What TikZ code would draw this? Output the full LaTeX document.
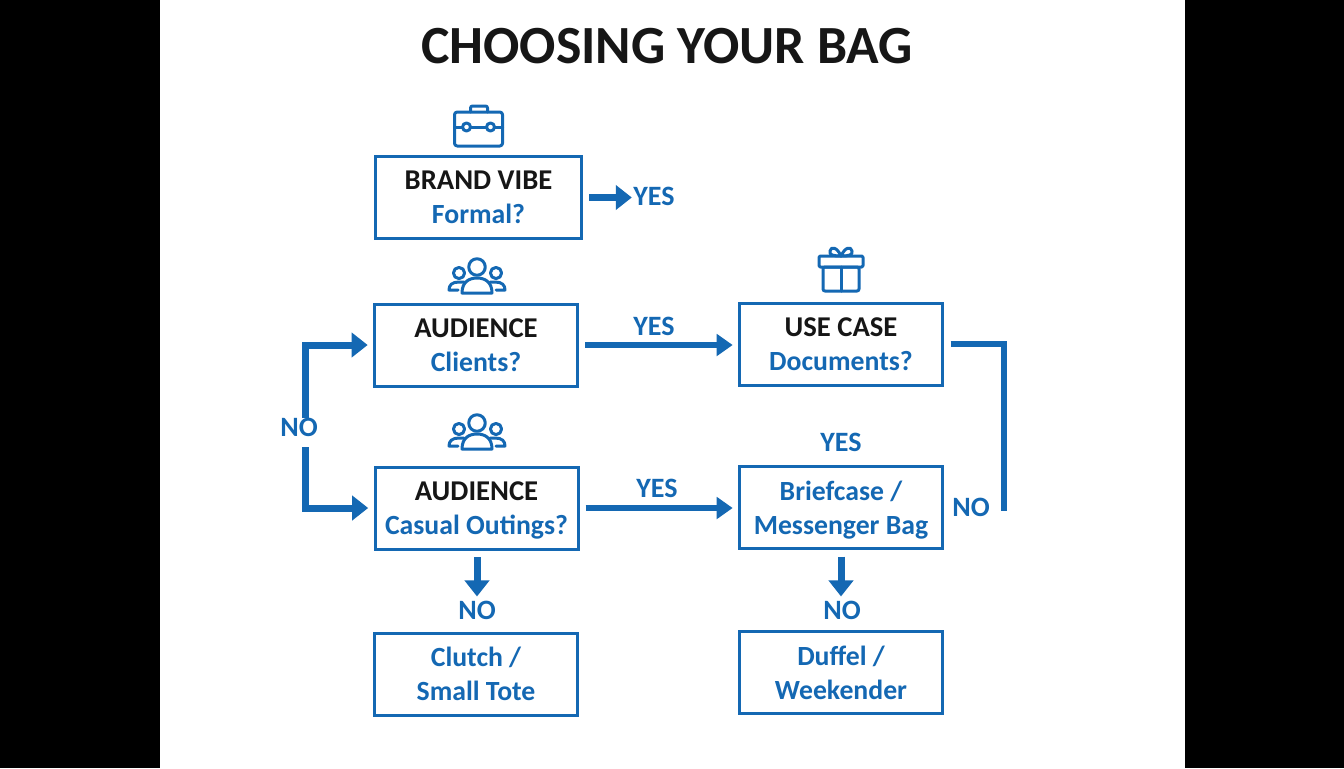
\documentclass[tikz,border=0pt]{standalone}
\usepackage{fontspec}
\setmainfont{Carlito}
\usetikzlibrary{arrows.meta}
\definecolor{bagblue}{HTML}{1468B3}
\definecolor{baginkk}{HTML}{161616}
\newcommand{\headline}[1]{\textcolor{baginkk}{\fontsize{21.5}{25.5}\selectfont #1}}
\newcommand{\lowered}{\rule{0pt}{18.5pt}}
\tikzset{
	qbox/.style={draw=bagblue,line width=2.25pt,fill=white,minimum width=152.25pt,minimum height=61.5pt,align=center,inner sep=0pt,font=\fontsize{20.8}{25.5}\selectfont\bfseries,text=bagblue},
	tag/.style={text=bagblue,inner sep=1pt,font=\fontsize{21}{22}\selectfont\bfseries},
	flow/.style={draw=bagblue,line width=4.25pt,-{Triangle[length=12pt,width=16pt]}},
	bigflow/.style={draw=bagblue,line width=5.25pt,-{Triangle[length=12pt,width=18pt]}},
	icon/.style={draw=bagblue,line width=2.25pt,line join=round,line cap=round},
	briefcase/.pic={
		\draw[icon,rounded corners=2pt] (-24,-15) rectangle (24,19);
		\draw[icon,rounded corners=1.5pt] (-8,-15)--(-8,-21)--(9,-21)--(9,-15);
		\draw[icon] (-24,0)--(-16,0) (-8,0)--(8,0) (16,0)--(24,0);
		\draw[icon] (-12,0) circle (3pt) (12,0) circle (3pt);
	},
	people/.pic={
		\draw[icon] (0,0) circle (6.2pt) (-18,6) circle (4.2pt) (19,6) circle (4.2pt);
		\draw[icon] (-15,26) .. controls (-15,15) and (-8,11) .. (0,11) .. controls (8,11) and (15,15) .. (15,26) -- cycle;
		\draw[icon] (-19,23) -- (-28,23) .. controls (-28,18) and (-25,15) .. (-18,15) -- (-13,15);
		\draw[icon] (19,23) -- (28,23) .. controls (28,18) and (25,15) .. (18,15) -- (13,15);
	},
	gift/.pic={
		\draw[icon,rounded corners=1pt] (-22,-11) rectangle (22,0);
		\draw[icon,rounded corners=1.5pt] (-18,0) rectangle (18,24);
		\draw[icon] (0,0)--(0,24);
		\draw[icon] (0,-11) .. controls (-4,-20) and (-10,-21) .. (-11,-16) .. controls (-12,-12) and (-8,-11) .. (0,-11);
		\draw[icon] (0,-11) .. controls (4,-20) and (10,-21) .. (11,-16) .. controls (12,-12) and (8,-11) .. (0,-11);
	}
}
\begin{document}
\begin{tikzpicture}[x=.75pt,y=-.75pt,line cap=butt]
	\fill[black] (0,0) rectangle (1344,768);
	\fill[white] (160,0) rectangle (1185,768);
	\useasboundingbox (0,0) rectangle (1344,768);
	\node[text=baginkk,inner sep=0pt,font=\fontsize{40.3}{40}\selectfont\bfseries] (title) at (667,46) {CHOOSING YOUR BAG};
	% boxes
	\node[qbox,minimum width=155pt] (brand) at (478.5,197.5) {\headline{BRAND VIBE}\\Formal?};
	\node[qbox] (aud1) at (476,345) {\headline{AUDIENCE}\\Clients?};
	\node[qbox] (usecase) at (841,344) {\headline{USE CASE}\\Documents?};
	\node[qbox] (aud2) at (476.5,508) {\lowered\headline{AUDIENCE}\\Casual Outings?};
	\node[qbox] (brief) at (841,507.5) {\lowered Briefcase /\\Messenger Bag};
	\node[qbox] (clutch) at (476,674) {Clutch /\\Small Tote};
	\node[qbox] (duffel) at (841,672.5) {Duffel /\\Weekender};
	% icons
	\pic at (478.5,127) {briefcase};
	\pic at (477,267) {people};
	\pic at (477,423) {people};
	\pic at (841,267) {gift};
	% labels
	\node[tag] (yesbrand) at (654,196) {YES};
	\node[tag] (yesaud1) at (654,326) {YES};
	\node[tag] (yesaud2) at (657,488) {YES};
	\node[tag] (yesuse) at (841,442) {YES};
	\node[tag] (noleft) at (299,427) {NO};
	\node[tag] (noright) at (971,507) {NO};
	\node[tag] (noaud) at (477,610) {NO};
	\node[tag] (nobrief) at (842,610) {NO};
	\coordinate (noup) at (305.5,418);
	\coordinate (nodown) at (305.5,447);
	\coordinate (rightend) at (1004,511);
	% connectors
	\draw[bigflow,shorten <=4.5pt,shorten >=0pt] (brand.east)--(brand.east -| yesbrand.west);
	\draw[flow,shorten <=4.5pt,shorten >=4pt] (aud1.east)--(aud1.east -| usecase.west);
	\draw[flow,shorten <=4.5pt,shorten >=4pt] (aud2.east)--(aud2.east -| brief.west);
	\draw[bigflow,shorten >=4pt] (noup) |- (aud1.west);
	\draw[bigflow,shorten >=4pt] (nodown) |- (aud2.west);
	\draw[draw=bagblue,line width=4.8pt,shorten <=5pt] (usecase.east) -| (rightend);
	\draw[bigflow,shorten <=5pt,shorten >=2pt] (aud2.south -| noaud.north)--(noaud.north);
	\draw[bigflow,shorten <=5pt,shorten >=2pt] (brief.south)--(brief.south |- nobrief.north);
\end{tikzpicture}
\end{document}
